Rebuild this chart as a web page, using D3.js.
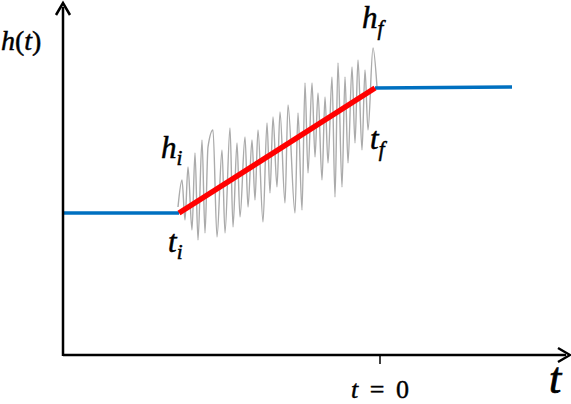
<!DOCTYPE html>
<html>
<head>
<meta charset="utf-8">
<script src="https://cdn.jsdelivr.net/npm/d3@7"></script>
<style>
    body { margin: 0; background: #fff; }
    svg { display: block; }
</style>
</head>
<body>
<div id="chart"></div>
<script>
// time (t) and height (h) values, t = 0 at the tick
const flatBefore = [{ t: -317, h: 142 }, { t: -201, h: 142 }];
const ramp = [{ t: -201, h: 142 }, { t: -5, h: 267 }];
const flatAfter = [{ t: -5, h: 267 }, { t: 132, h: 268 }];

const noiseT = [-202, -198, -195, -192, -188, -185, -182, -178, -175, -172, -167, -163, -158, -155, -150, -147,
    -143, -140, -135, -132, -128, -125, -122, -117, -113, -110, -107, -103, -100, -95, -92, -85, -82, -78, -75,
    -72, -68, -65, -62, -58, -55, -52, -48, -45, -42, -38, -35, -32, -28, -25, -22, -18, -15, -12, -7, -3];
const noiseH = [148, 175, 135, 188, 125, 202, 115, 215, 122, 208, 225, 118, 205, 122, 227, 128,
    212, 138, 218, 148, 215, 155, 225, 133, 232, 162, 238, 168, 243, 152, 250, 142, 242, 145, 272,
    182, 272, 198, 262, 175, 258, 192, 278, 158, 292, 168, 278, 192, 288, 212, 295, 205, 285, 225, 307, 268];

const tickValues = [0];
const tickLabels = [['t', ' = 0']];

const width = 571;
const height = 404;
const mathFont = '"Liberation Serif"';

const xScale = d3.scaleLinear().domain([-317, 190]).range([63, 570]);
const yScale = d3.scaleLinear().domain([0, 352]).range([355, 3]);

const svg = d3.select('#chart').append('svg')
    .attr('width', width)
    .attr('height', height);

const line = d3.line()
    .x(d => xScale(d.t))
    .y(d => yScale(d.h));

// noisy signal
const noise = noiseT.map((t, i) => ({ t: t, h: noiseH[i] }));
svg.append('path')
    .datum(noise)
    .attr('d', line.curve(d3.curveMonotoneX))
    .attr('fill', 'none')
    .attr('stroke', '#ababab')
    .attr('stroke-width', 1.4);
line.curve(d3.curveLinear);

svg.append('path').datum(flatBefore).attr('d', line)
    .attr('fill', 'none').attr('stroke', '#0070c0').attr('stroke-width', 3.5);
svg.append('path').datum(flatAfter).attr('d', line)
    .attr('fill', 'none').attr('stroke', '#0070c0').attr('stroke-width', 3.5);
svg.append('path').datum(ramp).attr('d', line)
    .attr('fill', 'none').attr('stroke', '#ff0000').attr('stroke-width', 5.5);

// axes
const x0 = xScale.range()[0];
const y0 = yScale.range()[0];
svg.append('line')
    .attr('x1', x0).attr('y1', y0).attr('x2', xScale.range()[1] - 4).attr('y2', y0)
    .attr('stroke', '#000').attr('stroke-width', 2.5);
svg.append('line')
    .attr('x1', x0).attr('y1', y0 + 1).attr('x2', x0).attr('y2', yScale.range()[1] + 4)
    .attr('stroke', '#000').attr('stroke-width', 2.5);

// arrow heads (open chevrons)
const xe = xScale.range()[1];
svg.append('path')
    .attr('d', `M${xe - 12},${y0 - 7} L${xe},${y0} L${xe - 12},${y0 + 7}`)
    .attr('fill', 'none').attr('stroke', '#000').attr('stroke-width', 2.5);
const ye = yScale.range()[1];
svg.append('path')
    .attr('d', `M${x0 - 7},${ye + 12} L${x0},${ye} L${x0 + 7},${ye + 12}`)
    .attr('fill', 'none').attr('stroke', '#000').attr('stroke-width', 2.5);

// tick
svg.selectAll('.tick')
    .data(tickValues)
    .enter().append('line')
    .attr('x1', d => xScale(d)).attr('x2', d => xScale(d))
    .attr('y1', y0).attr('y2', y0 + 9)
    .attr('stroke', '#000').attr('stroke-width', 1.5);

function mathText(sel, size) {
    return sel.style('font-family', mathFont)
        .style('font-style', 'italic')
        .style('font-size', size + 'px')
        .attr('fill', '#000')
        .attr('stroke', '#000')
        .attr('stroke-width', size / 60);
}

const tl = mathText(svg.selectAll('.tickLabel')
    .data(tickValues)
    .enter().append('text')
    .attr('x', d => xScale(d))
    .attr('y', 398)
    .attr('text-anchor', 'middle')
    .style('word-spacing', '5px'), 26);
tl.append('tspan').text((d, i) => tickLabels[i][0]);
tl.append('tspan').style('font-style', 'normal').text((d, i) => tickLabels[i][1]);

// axis titles
const ht = mathText(svg.append('text').attr('x', 1).attr('y', 50), 28);
ht.append('tspan').text('h');
ht.append('tspan').style('font-style', 'normal').text('(');
ht.append('tspan').text('t');
ht.append('tspan').style('font-style', 'normal').text(')');
mathText(svg.append('text').attr('x', 549).attr('y', 393), 44).text('t');

// annotations with subscripts
function subLabel(x, y, main, sub) {
    const t = mathText(svg.append('text').attr('x', x).attr('y', y), 31);
    t.append('tspan').text(main);
    t.append('tspan').attr('dy', 7).style('font-size', '21px').text(sub);
}
subLabel(362, 28, 'h', 'f');
subLabel(161, 158, 'h', 'i');
subLabel(370, 149, 't', 'f');
subLabel(168, 252, 't', 'i');
</script>
</body>
</html>
